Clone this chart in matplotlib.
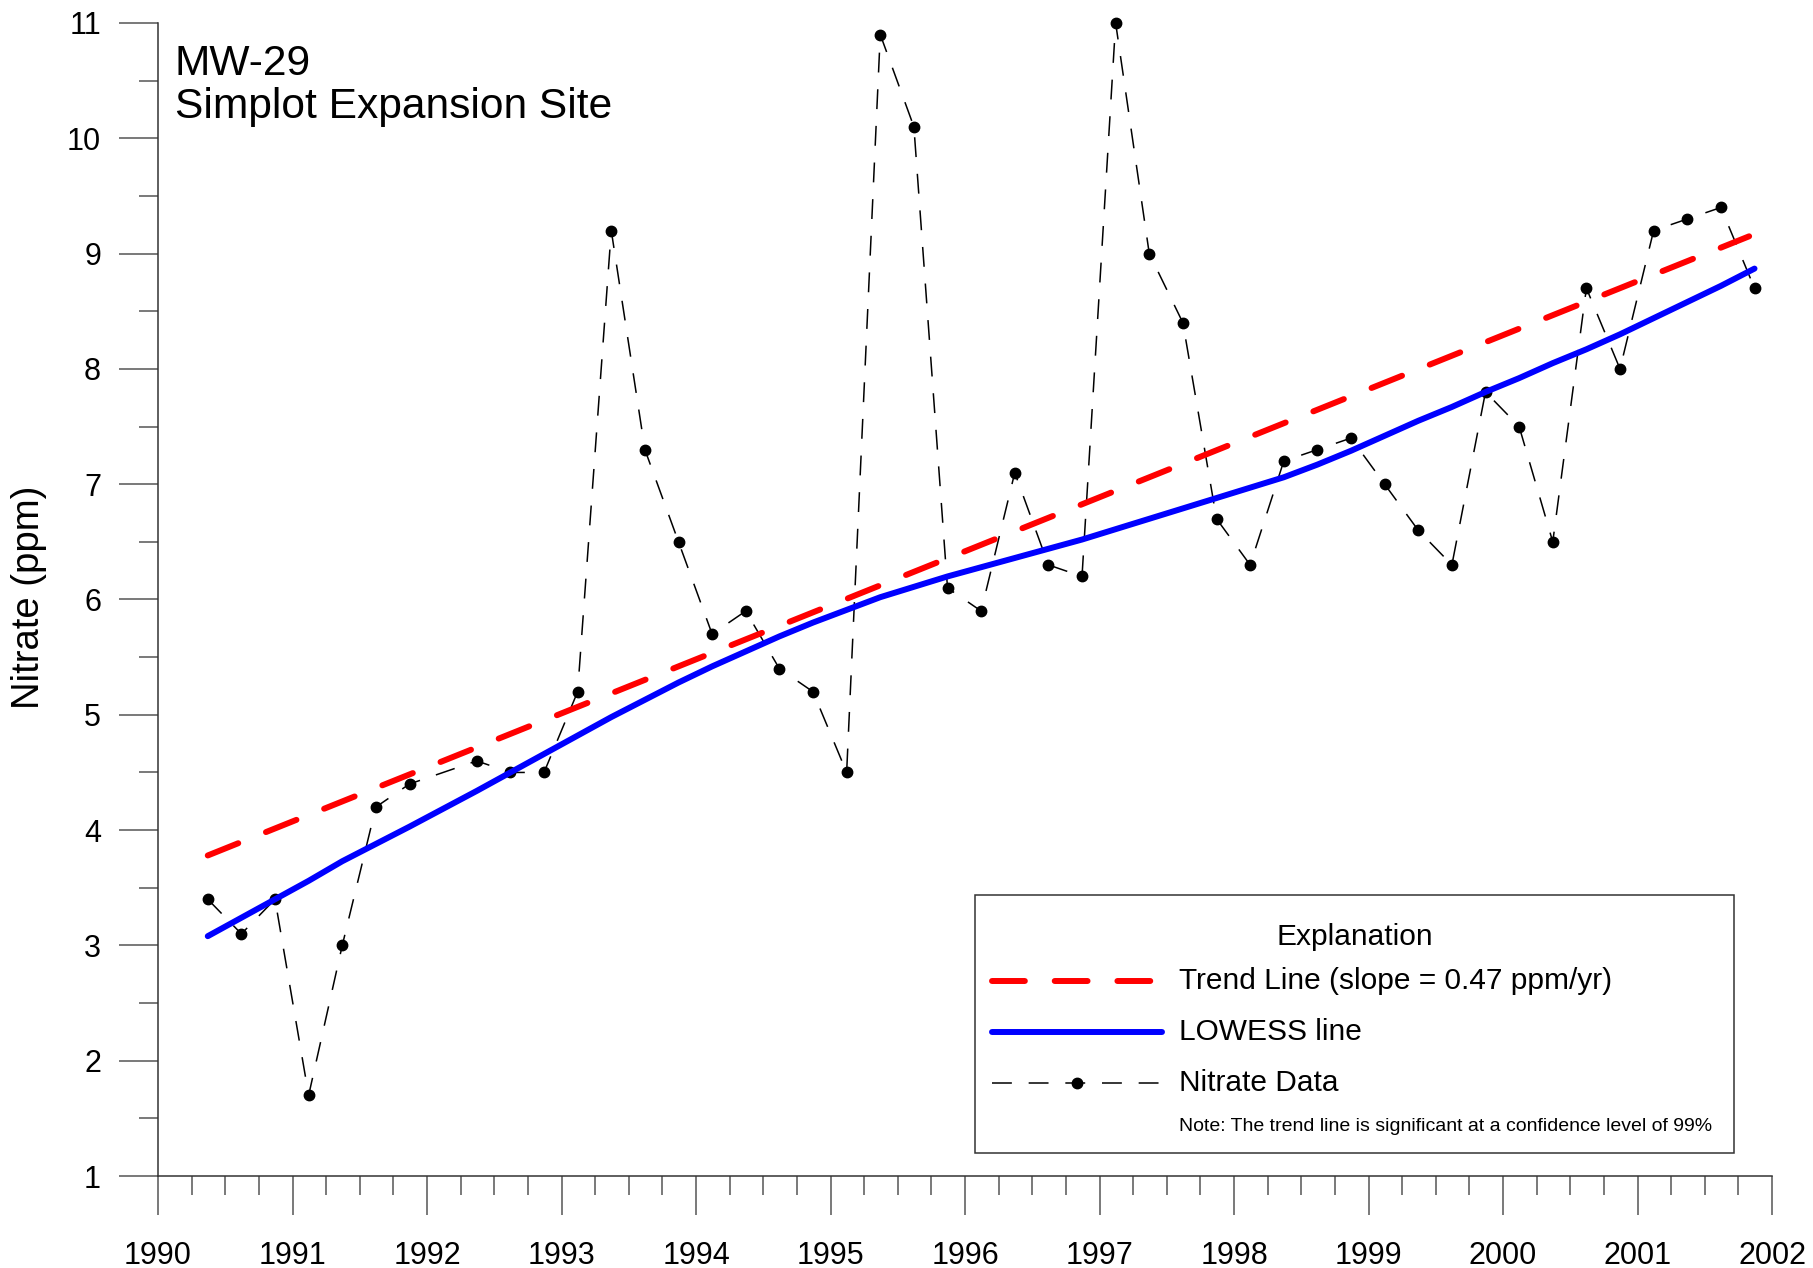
import numpy as np
import matplotlib
matplotlib.use("Agg")
import matplotlib.pyplot as plt
from matplotlib.patches import Rectangle
from matplotlib.ticker import MultipleLocator

plt.rcParams['font.family'] = ['Liberation Sans', 'DejaVu Sans']

# sample dates (decimal years) and nitrate values (ppm)
dates = [1990.37, 1990.62, 1990.87, 1991.12, 1991.37, 1991.62, 1991.87,
         1992.37, 1992.62, 1992.87, 1993.12, 1993.37, 1993.62, 1993.87,
         1994.12, 1994.37, 1994.62, 1994.87, 1995.12, 1995.37, 1995.62,
         1995.87, 1996.12, 1996.37, 1996.62, 1996.87, 1997.12, 1997.37,
         1997.62, 1997.87, 1998.12, 1998.37, 1998.62, 1998.87, 1999.12,
         1999.37, 1999.62, 1999.87, 2000.12, 2000.37, 2000.62, 2000.87,
         2001.12, 2001.37, 2001.62, 2001.87]
nitrate = [3.4, 3.1, 3.4, 1.7, 3.0, 4.2, 4.4,
           4.6, 4.5, 4.5, 5.2, 9.2, 7.3, 6.5,
           5.7, 5.9, 5.4, 5.2, 4.5, 10.9, 10.1,
           6.1, 5.9, 7.1, 6.3, 6.2, 11.0, 9.0,
           8.4, 6.7, 6.3, 7.2, 7.3, 7.4, 7.0,
           6.6, 6.3, 7.8, 7.5, 6.5, 8.7, 8.0,
           9.2, 9.3, 9.4, 8.7]

# LOWESS curve read at the sample dates
lowess = [3.08, 3.24, 3.40, 3.56, 3.73, 3.88, 4.03,
          4.34, 4.50, 4.66, 4.82, 4.98, 5.13, 5.28,
          5.42, 5.55, 5.68, 5.80, 5.91, 6.02, 6.11,
          6.20, 6.28, 6.36, 6.44, 6.52, 6.61, 6.70,
          6.79, 6.88, 6.97, 7.06, 7.17, 7.29, 7.42,
          7.55, 7.67, 7.80, 7.92, 8.05, 8.17, 8.30,
          8.44, 8.58, 8.72, 8.87]

# trend line end points (slope 0.47 ppm/yr)
trend_x = [1990.37, 2001.83]
trend_y = [3.78, 9.15]

W, H = 1813, 1268
fig = plt.figure(figsize=(W / 100, H / 100), dpi=100)
# axes box in pixels: left 158, right 1772, top 23, bottom 1176
ax = fig.add_axes([158 / W, 1 - 1176 / H, 1614 / W, 1153 / H])

ax.plot(dates, nitrate, color='black', lw=1.1, dashes=(13, 11),
        marker='o', ms=7.5, zorder=2, clip_on=False)
ax.plot(dates, lowess, color='#0000ff', lw=4.3, solid_capstyle='round', zorder=3)
ax.plot(trend_x, trend_y, color='#ff0000', lw=4.3, dashes=(5.5, 5),
        dash_capstyle='round', zorder=4)

ax.set_xlim(1990, 2002)
ax.set_ylim(1, 11)
ax.xaxis.set_major_locator(MultipleLocator(1))
ax.xaxis.set_minor_locator(MultipleLocator(0.25))
ax.yaxis.set_major_locator(MultipleLocator(1))
ax.yaxis.set_minor_locator(MultipleLocator(0.5))

for s in ['top', 'right']:
    ax.spines[s].set_visible(False)
for s in ['left', 'bottom']:
    ax.spines[s].set_color('#333333')
    ax.spines[s].set_linewidth(1.1)

ax.tick_params(which='major', direction='out', length=28, width=1.1,
               color='#555555', labelsize=22)
ax.tick_params(which='minor', direction='out', length=14, width=1.1,
               color='#555555')
ax.tick_params(axis='x', which='major', pad=18.5)
ax.tick_params(axis='y', which='major', pad=13)

fig.text(29 / W, 1 - 597 / H, 'Nitrate (ppm)', rotation=90,
         ha='center', va='center', fontsize=27.5)

ax.text(0.0105, 0.9549, 'MW-29', transform=ax.transAxes, fontsize=30.6, va='baseline')
ax.text(0.0105, 0.9176, 'Simplot Expansion Site', transform=ax.transAxes,
        fontsize=30.6, va='baseline')

# explanation box
tA = ax.transAxes
ax.add_patch(Rectangle((0.5062, 0.0199), 0.4703, 0.2238, transform=tA,
                       facecolor='white', edgecolor='#333333', lw=1.1, zorder=5))
ax.text(0.7416, 0.2073, 'Explanation', transform=tA, ha='center', va='center',
        fontsize=21.5, zorder=6)
lx0, lx1, tx = 0.5167, 0.6221, 0.6326
ax.plot([lx0, lx1], [0.1691, 0.1691], transform=tA, color='#ff0000', lw=4.3,
        dashes=(5.5, 5), dash_capstyle='round', zorder=6)
ax.text(tx, 0.1691, 'Trend Line (slope = 0.47 ppm/yr)', transform=tA,
        va='center', fontsize=21.5, zorder=6)
ax.plot([lx0, lx1], [0.1249, 0.1249], transform=tA, color='#0000ff', lw=4.3,
        solid_capstyle='round', zorder=6)
ax.text(tx, 0.1249, 'LOWESS line', transform=tA, va='center', fontsize=21.5, zorder=6)
ax.plot([lx0, (lx0 + lx1) / 2, lx1], [0.0807] * 3, transform=tA, color='black',
        lw=1.1, dashes=(13, 11), marker='o', ms=7.5, markevery=[1], zorder=6)
ax.text(tx, 0.0807, 'Nitrate Data', transform=tA, va='center', fontsize=21.5, zorder=6)
ax.text(tx, 0.0425, 'Note: The trend line is significant at a confidence level of 99%',
        transform=tA, va='center', fontsize=14, zorder=6)

fig.savefig('out.png', dpi=100)
